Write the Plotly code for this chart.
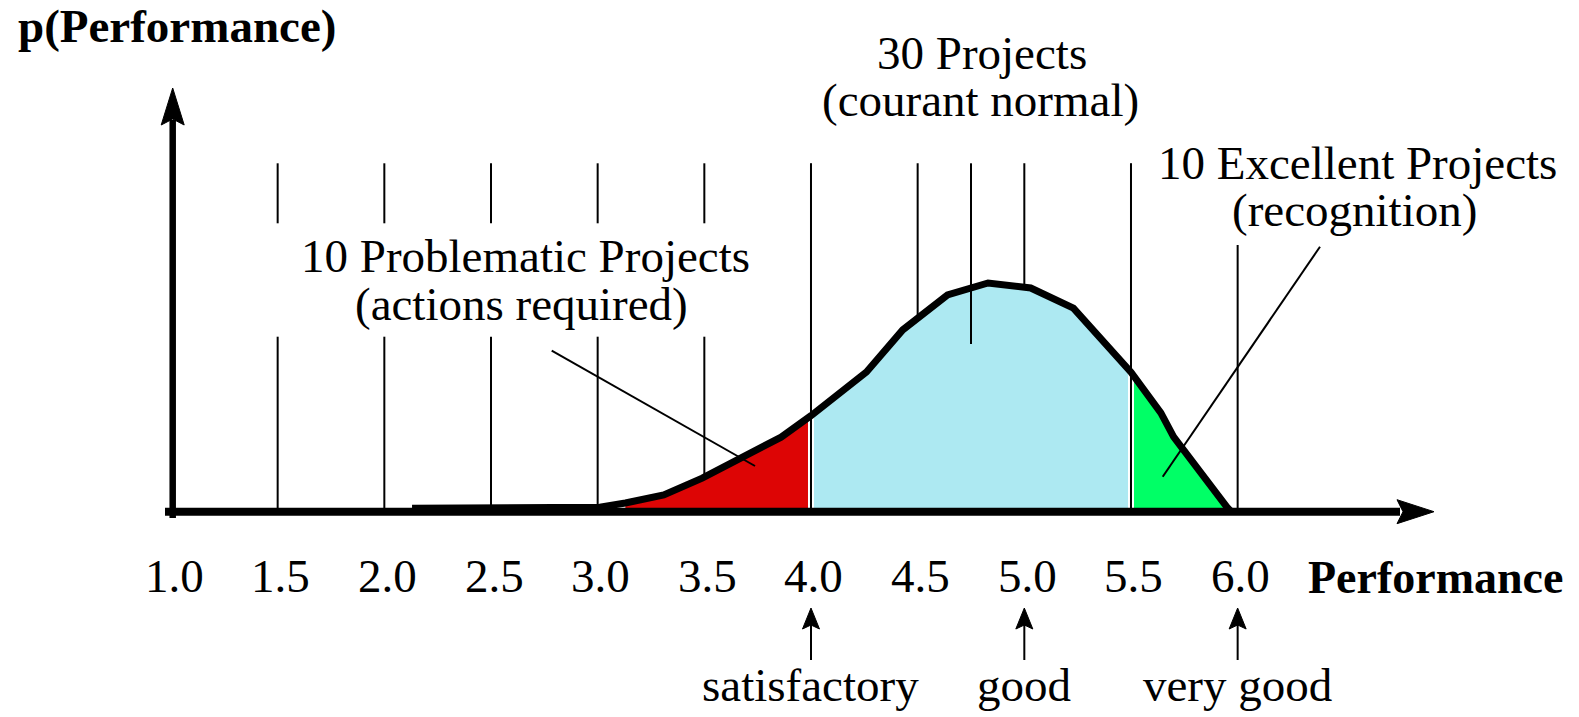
import plotly.graph_objects as go

# ---------------- data ----------------
perf = [2.13, 3.01, 3.13, 3.31, 3.49, 3.68, 3.86, 4.00, 4.26, 4.43, 4.64,
        4.83, 5.03, 5.23, 5.40, 5.50, 5.64, 5.70, 5.95, 5.97]
density = [0.015, 0.02, 0.038, 0.073, 0.147, 0.235, 0.326, 0.42, 0.611, 0.795,
           0.948, 1.0, 0.978, 0.89, 0.72, 0.61, 0.432, 0.327, 0.02, 0.0]

tick_vals = [1.0, 1.5, 2.0, 2.5, 3.0, 3.5, 4.0, 4.5, 5.0, 5.5, 6.0]
tick_text = ["1.0", "1.5", "2.0", "2.5", "3.0", "3.5", "4.0", "4.5", "5.0", "5.5", "6.0"]
extra_grid = [4.75]

grade_vals = [4.0, 5.0, 6.0]
grade_labels = ["satisfactory", "good", "very good"]

problem_limit = 4.0
excellent_limit = 5.5
red_start = 3.13

# ---------------- styling ----------------
W, H = 1579, 717
FONT = "Liberation Serif, Times New Roman, serif"
FS = 47
RED = "#DD0505"
BLUE = "#ADE9F2"
GREEN = "#00FF66"

# pixel geometry of the axes
X_ORIGIN_PX, X_UNIT_PX = 171.0, 213.33
Y_ORIGIN_PX, Y_UNIT_PX = 511.7, 228.7


def xd(p):
    return 1 + (p - X_ORIGIN_PX) / X_UNIT_PX


def yd(p):
    return (Y_ORIGIN_PX - p) / Y_UNIT_PX


GRID_TOP = yd(163.3)
GAP_TOP = yd(223.3)
GAP_BOT = yd(336.7)
LAST_TOP = yd(245)
MID_BOT = yd(344)

fig = go.Figure()

# background grid lines (behind fills)
gx, gy = [], []
for v in tick_vals[1:]:
    if v < problem_limit:
        gx += [v, v, None, v, v, None]
        gy += [GRID_TOP, GAP_TOP, None, GAP_BOT, 0, None]
    elif v == tick_vals[-1]:
        gx += [v, v, None]
        gy += [LAST_TOP, 0, None]
    else:
        gx += [v, v, None]
        gy += [GRID_TOP, 0, None]
fig.add_trace(go.Scatter(x=gx, y=gy, mode="lines", line=dict(color="black", width=2),
                         hoverinfo="skip"))


def segment(lo, hi):
    xs = [x for x in perf if lo <= x <= hi]
    ys = [y for x, y in zip(perf, density) if lo <= x <= hi]
    return xs, ys


for lo, hi, col in [(red_start, problem_limit, RED),
                    (problem_limit, excellent_limit, BLUE),
                    (excellent_limit, perf[-1], GREEN)]:
    sx, sy = segment(lo, hi)
    fig.add_trace(go.Scatter(x=sx, y=sy, mode="lines", fill="tozeroy", fillcolor=col,
                             line=dict(width=0, color=col), hoverinfo="skip"))

# boundary lines drawn over the fills
bx, by = [], []
for v in [problem_limit, excellent_limit]:
    bx += [v, v, None]
    by += [GRID_TOP, 0, None]
fig.add_trace(go.Scatter(x=bx, y=by, mode="lines", line=dict(color="white", width=6),
                         hoverinfo="skip"))
for v in extra_grid:
    bx += [v, v, None]
    by += [GRID_TOP, MID_BOT, None]
fig.add_trace(go.Scatter(x=bx, y=by, mode="lines", line=dict(color="black", width=2),
                         hoverinfo="skip"))

# distribution curve
fig.add_trace(go.Scatter(x=perf, y=density, mode="lines",
                         line=dict(color="black", width=7), hoverinfo="skip"))

shapes = []
# axes
shapes.append(dict(type="line", xref="x", yref="y", x0=xd(165), x1=xd(1400), y0=0, y1=0,
                   line=dict(color="black", width=8), layer="above"))
shapes.append(dict(type="line", xref="x", yref="y", x0=xd(172.7), x1=xd(172.7),
                   y0=yd(518), y1=yd(120), line=dict(color="black", width=6.5), layer="above"))
shapes.append(dict(type="path", xref="x", yref="y", xsizemode="pixel", ysizemode="pixel",
                   xanchor=xd(1434), yanchor=0, path="M0,0 L-37,12 L-31,0 L-37,-12 Z",
                   fillcolor="black", line=dict(color="black", width=1), layer="above"))
shapes.append(dict(type="path", xref="x", yref="y", xsizemode="pixel", ysizemode="pixel",
                   xanchor=xd(172.7), yanchor=yd(88), path="M0,0 L-11.5,-37 L0,-31 L11.5,-37 Z",
                   fillcolor="black", line=dict(color="black", width=1), layer="above"))
# grade arrows
for g in grade_vals:
    shapes.append(dict(type="line", xref="x", yref="y", x0=g, x1=g, y0=yd(622), y1=yd(660),
                       line=dict(color="black", width=2), layer="above"))
    shapes.append(dict(type="path", xref="x", yref="y", xsizemode="pixel", ysizemode="pixel",
                       xanchor=g, yanchor=yd(608), path="M0,0 L-8.5,-21 L0,-17 L8.5,-21 Z",
                       fillcolor="black", line=dict(color="black", width=1), layer="above"))
# leader lines
shapes.append(dict(type="line", xref="x", yref="y", x0=xd(551.7), y0=yd(350.7),
                   x1=xd(755), y1=yd(466), line=dict(color="black", width=2), layer="above"))
shapes.append(dict(type="line", xref="x", yref="y", x0=xd(1320), y0=yd(246.7),
                   x1=xd(1162.7), y1=yd(476.7), line=dict(color="black", width=2), layer="above"))

ann = []


def px(p):
    return p / W


def py(p):
    return 1 - p / H


def text(t, xp, yp, bold=False, size=FS):
    ann.append(dict(text=("<b>%s</b>" % t) if bold else t, xref="paper", yref="paper",
                    x=px(xp), y=py(yp), xanchor="center", yanchor="middle",
                    showarrow=False, font=dict(family=FONT, size=size, color="black")))


text("p(Performance)", 177, 26, bold=True)
text("30 Projects", 982, 53)
text("(courant normal)", 980, 100)
text("10 Excellent Projects", 1357, 163)
text("(recognition)", 1354, 210)
text("10 Problematic Projects", 525, 256)
text("(actions required)", 521, 304)
text("Performance", 1435, 577, bold=True, size=46)

for v, t in zip(tick_vals, tick_text):
    ann.append(dict(text=t, xref="x", yref="paper", x=v, y=py(576), xshift=3,
                    xanchor="center", yanchor="middle", showarrow=False,
                    font=dict(family=FONT, size=FS, color="black")))
for v, t in zip(grade_vals, grade_labels):
    ann.append(dict(text=t, xref="x", yref="paper", x=v, y=py(685),
                    xanchor="center", yanchor="middle", showarrow=False,
                    font=dict(family=FONT, size=FS, color="black")))

fig.update_layout(
    width=W, height=H, margin=dict(l=0, r=0, t=0, b=0),
    paper_bgcolor="white", plot_bgcolor="white", showlegend=False,
    xaxis=dict(range=[xd(0), xd(W)], visible=False, fixedrange=True),
    yaxis=dict(range=[yd(H), yd(0)], visible=False, fixedrange=True),
    shapes=shapes, annotations=ann,
)

fig.write_html("out.html", config={"displayModeBar": False},
               post_script="document.body.style.margin='0';document.body.style.overflow='hidden';")
